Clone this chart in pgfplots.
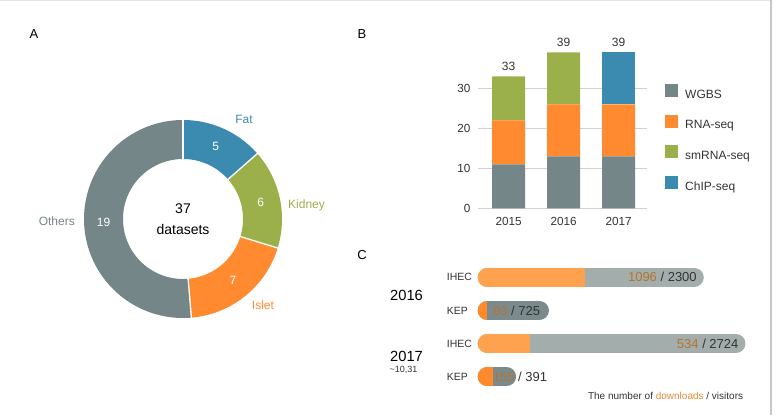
\documentclass[border=0pt]{standalone}
\usepackage{pgfplots}
\pgfplotsset{compat=1.18}
\usepackage{pgfplotstable}
\usepackage{fontspec}
\setmainfont{Liberation Sans}

\definecolor{cGray}{HTML}{758688}
\definecolor{cOrange}{HTML}{FF8A30}
\definecolor{cGreen}{HTML}{9BB04A}
\definecolor{cBlue}{HTML}{3B8BB0}
\definecolor{txtDark}{HTML}{333333}
\definecolor{ihecOrange}{HTML}{FFA250}
\definecolor{ihecGray}{HTML}{A3ADAB}
\definecolor{kepOrange}{HTML}{FF8A2C}
\definecolor{kepGray}{HTML}{7B8A8C}
\definecolor{dlText}{HTML}{B5742F}
\definecolor{dlWord}{HTML}{E08A3C}

\newcommand{\fs}[1]{\fontsize{#1}{#1}\selectfont}

% A: datasets per tissue
\pgfplotstableread{
name   n
Fat    5
Kidney 6
Islet  7
Others 19
}\tissues

% B: datasets per assay and year
\pgfplotstableread{
x  wgbs rna smrna chip total
0  11   11  11    0    33
1  13   13  13    0    39
2  13   13  0     13   39
}\assays

% C: downloads / visitors (y = row)
\pgfplotstableread{
y dl   vis
3 1096 2300
1 534  2724
}\ihec
\pgfplotstableread{
y dl  vis
2 93  725
0 155 391
}\kep

\begin{document}
\begin{tikzpicture}[x=1pt,y=1pt]
% ---- donut angles from the counts ----
\pgfplotstablegetelem{0}{n}\of\tissues\edef\nA{\pgfplotsretval}
\pgfplotstablegetelem{1}{n}\of\tissues\edef\nB{\pgfplotsretval}
\pgfplotstablegetelem{2}{n}\of\tissues\edef\nC{\pgfplotsretval}
\pgfplotstablegetelem{3}{n}\of\tissues\edef\nD{\pgfplotsretval}
\pgfmathsetmacro\ntot{\nA+\nB+\nC+\nD}
\pgfmathsetmacro\aA{90}
\pgfmathsetmacro\aB{\aA-360*\nA/\ntot}
\pgfmathsetmacro\aC{\aB-360*\nB/\ntot}
\pgfmathsetmacro\aD{\aC-360*\nC/\ntot}
\pgfmathsetmacro\aE{\aD-360*\nD/\ntot}
\pgfmathsetmacro\mA{(\aA+\aB)/2}
\pgfmathsetmacro\mB{(\aB+\aC)/2}
\pgfmathsetmacro\mC{(\aC+\aD)/2}
\pgfmathsetmacro\mD{(\aD+\aE)/2}
\def\rm{79.5}

% frame
\draw[black!10, line width=1.2pt] (0pt,414.4pt) -- (771pt,414.4pt);
\draw[black!22, line width=1.5pt] (771pt,0pt) -- (771pt,415pt);

% panel letters
\node[font=\fs{13}, text=black] at (34pt,381.3pt) {A};
\node[font=\fs{13}, text=black] at (362pt,381pt) {B};
\node[font=\fs{13}, text=black] at (362pt,160pt) {C};

% ---------------- A: donut ----------------
\begin{axis}[at={(183pt,196pt)}, anchor=center,
  x=1pt, y=1pt, xmin=-120, xmax=120, ymin=-120, ymax=120,
  hide axis, clip=false]
\addplot[cBlue,  line width=39pt, domain=\aB:\aA, samples=40, variable=\t] ({\rm*cos(\t)},{\rm*sin(\t)});
\addplot[cGreen, line width=39pt, domain=\aC:\aB, samples=40, variable=\t] ({\rm*cos(\t)},{\rm*sin(\t)});
\addplot[cOrange,line width=39pt, domain=\aD:\aC, samples=40, variable=\t] ({\rm*cos(\t)},{\rm*sin(\t)});
\addplot[cGray,  line width=39pt, domain=\aE:\aD, samples=120, variable=\t] ({\rm*cos(\t)},{\rm*sin(\t)});
% white separators
\addplot[white, line width=1.3pt, domain=59:100, samples=2] ({x*cos(\aA)},{x*sin(\aA)});
\addplot[white, line width=1.3pt, domain=59:100, samples=2] ({x*cos(\aB)},{x*sin(\aB)});
\addplot[white, line width=1.3pt, domain=59:100, samples=2] ({x*cos(\aC)},{x*sin(\aC)});
\addplot[white, line width=1.3pt, domain=59:100, samples=2] ({x*cos(\aD)},{x*sin(\aD)});
% values
\node[white, font=\fs{12}] at (axis cs:{\rm*cos(\mA)},{\rm*sin(\mA)}) {5};
\node[white, font=\fs{12}] at (axis cs:{\rm*cos(\mB)},{\rm*sin(\mB)}) {6};
\node[white, font=\fs{12}] at (axis cs:{\rm*cos(\mC)},{\rm*sin(\mC)}) {7};
\node[white, font=\fs{12}] at (axis cs:{\rm*cos(\mD)},{\rm*sin(\mD)}) {19};
% names
\node[cBlue,  font=\fs{12}] at (axis cs:61,100) {Fat};
\node[cGreen, font=\fs{12}, anchor=west, inner sep=0pt] at (axis cs:105,14) {Kidney};
\node[cOrange,font=\fs{12}] at (axis cs:80,-86) {Islet};
\node[cGray,  font=\fs{12}, anchor=east, inner sep=0pt] at (axis cs:-108,-2) {Others};
% centre
\node[black, font=\fs{14}] at (axis cs:0,10) {37};
\node[black, font=\fs{14}] at (axis cs:0,-10) {datasets};
\end{axis}

% ---------------- B: stacked bars ----------------
\begin{axis}[at={(478pt,206.7pt)}, anchor=south west,
  x=55pt, y=4pt, xmin=-0.555, xmax=2.518, ymin=0, ymax=39,
  ybar stacked, bar width=33pt,
  axis line style={draw=none}, major tick length=0pt,
  xtick=data, xticklabels={2015,2016,2017},
  ytick={0,10,20,30},
  ymajorgrids, grid style={draw=black!18, line width=0.8pt},
  /pgf/number format/assume math mode=true,
  tick label style={font=\fs{11.7}, text=txtDark},
  xticklabel style={yshift=-5.5pt},
  yticklabel style={xshift=-4pt},
  legend image code/.code={\path[#1, draw=none] (0pt,-2.2pt) rectangle (13pt,10.8pt);},
  legend style={at={(1.1065,0.797)}, anchor=north west, draw=none, fill=none,
    inner sep=0pt, row sep=14.8pt, font=\fs{12},
    nodes={inner sep=0pt, text=txtDark},
    /tikz/every odd column/.append style={column sep=7pt}},
  legend cell align=left,
  clip=false]
\addplot[fill=cGray, draw=none] table[x=x, y=wgbs] {\assays};
\addplot[fill=cOrange, draw=none] table[x=x, y=rna] {\assays};
\addplot[fill=cGreen, draw=none] table[x=x, y=smrna] {\assays};
\addplot[fill=cBlue, draw=none] table[x=x, y=chip] {\assays};
\legend{WGBS,RNA-seq,smRNA-seq,ChIP-seq}
% totals above the bars
\node[anchor=south, inner sep=0pt, font=\fs{12}, text=txtDark] at (axis cs:0,33) [yshift=5.5pt] {33};
\node[anchor=south, inner sep=0pt, font=\fs{12}, text=txtDark] at (axis cs:1,39) [yshift=5.5pt] {39};
\node[anchor=south, inner sep=0pt, font=\fs{12}, text=txtDark] at (axis cs:2,39) [yshift=5.5pt] {39};
\end{axis}

% ---------------- C: pill bars ----------------
\def\xu{0.0983}
\pgfmathsetmacro\rC{9.7/\xu}
\begin{axis}[at={(477.7pt,21.7pt)}, anchor=south west,
  x=\xu pt, y=33.13pt, xmin=0, xmax=2800, ymin=-0.5, ymax=3.5,
  axis line style={draw=none}, major tick length=0pt,
  xtick=\empty, ytick={0,1,2,3}, yticklabels={KEP,IHEC,KEP,IHEC},
  yticklabel style={anchor=west, inner sep=0pt, xshift=-31pt, font=\fs{10.5}, text=txtDark},
  clip=false]
% visitors (whole pill)
\addplot[draw=none, mark=none, forget plot, error bars/.cd, x dir=plus, x explicit, error mark=none,
  error bar style={draw=ihecGray, line width=19.4pt, line cap=round}]
  table[x expr=\rC, y=y, x error expr=\thisrow{vis}-2*\rC] {\ihec};
\addplot[draw=none, mark=none, forget plot, error bars/.cd, x dir=plus, x explicit, error mark=none,
  error bar style={draw=kepGray, line width=19.4pt, line cap=round}]
  table[x expr=\rC, y=y, x error expr=\thisrow{vis}-2*\rC] {\kep};
% downloads (rounded on the left)
\addplot[draw=none, mark=none, forget plot, error bars/.cd, x dir=plus, x explicit, error mark=none,
  error bar style={draw=ihecOrange, line width=19.4pt, line cap=round}]
  table[x expr=\rC, y=y, x error expr={max(\thisrow{dl}-\rC,1)}] {\ihec};
\addplot[draw=none, mark=none, forget plot, error bars/.cd, x dir=plus, x explicit, error mark=none,
  error bar style={draw=kepOrange, line width=19.4pt, line cap=round}]
  table[x expr=\rC, y=y, x error expr={max(\thisrow{dl}-\rC,1)}] {\kep};
% square end of the downloads part
\addplot[draw=none, mark=none, forget plot, error bars/.cd, x dir=plus, x explicit, error mark=none,
  error bar style={draw=ihecGray, line width=19.4pt, line cap=butt}]
  table[x=dl, y=y, x error expr={max(\thisrow{dl},\rC)+\rC-\thisrow{dl}}] {\ihec};
\addplot[draw=none, mark=none, forget plot, error bars/.cd, x dir=plus, x explicit, error mark=none,
  error bar style={draw=kepGray, line width=19.4pt, line cap=butt}]
  table[x=dl, y=y, x error expr={max(\thisrow{dl},\rC)+\rC-\thisrow{dl}}] {\kep};
% counts
\node[anchor=east, inner sep=0pt, font=\fs{13}, text=txtDark] at (axis cs:2230,3) {\textcolor{dlText}{1096} / 2300};
\node[anchor=west, inner sep=0pt, font=\fs{13}, text=txtDark] at (axis cs:155,2) {\textcolor{dlText}{93} / 725};
\node[anchor=east, inner sep=0pt, font=\fs{13}, text=txtDark] at (axis cs:2654,1) {\textcolor{dlText}{534} / 2724};
\node[anchor=west, inner sep=0pt, font=\fs{13}, text=txtDark] at (axis cs:152,0) {\textcolor{dlText}{155} / 391};
\end{axis}

% years and caption of C
\node[anchor=west, inner sep=0pt, font=\fs{14.7}, text=black] at (390pt,120pt) {2016};
\node[anchor=west, inner sep=0pt, font=\fs{14.7}, text=black] at (390pt,58.3pt) {2017};
\node[anchor=west, inner sep=0pt, font=\fs{9}, text=txtDark] at (389.5pt,45.5pt) {\textasciitilde 10,31};
\node[anchor=east, inner sep=0pt, font=\fs{10}, text=txtDark] at (743.3pt,19.3pt) {The number of \textcolor{dlWord}{downloads} / visitors};

\pgfresetboundingbox
\useasboundingbox (0pt,0pt) rectangle (778pt,415pt);
\end{tikzpicture}
\end{document}
